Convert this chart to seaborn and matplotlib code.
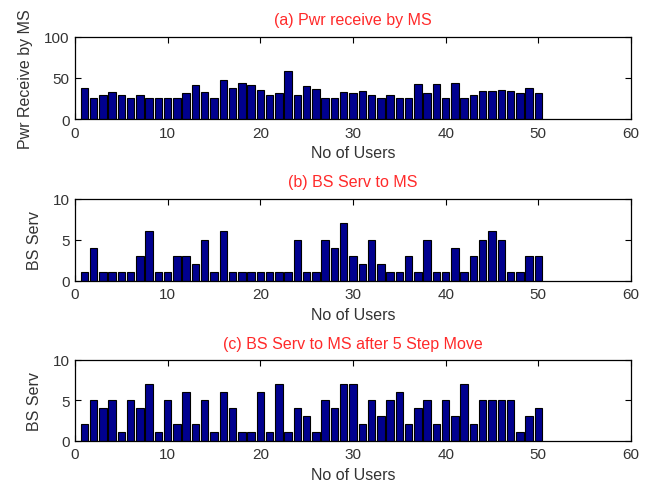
import matplotlib
matplotlib.use("Agg")
import matplotlib.pyplot as plt
import seaborn as sns
import pandas as pd

# Users 1..50
users = list(range(1, 51))

# (a) received power per mobile station
pwr_receive = [38, 26, 29, 33, 29, 26, 29, 26, 26, 26,
               26, 31, 41, 33, 26, 47, 37, 44, 41, 35,
               29, 31, 58, 29, 40, 36, 26, 26, 33, 31,
               34, 29, 26, 29, 26, 26, 43, 31, 43, 26,
               44, 26, 29, 34, 34, 35, 34, 31, 37, 31]

# (b) serving base station per mobile station
bs_serv = [1, 4, 1, 1, 1, 1, 3, 6, 1, 1,
           3, 3, 2, 5, 1, 6, 1, 1, 1, 1,
           1, 1, 1, 5, 1, 1, 5, 4, 7, 3,
           2, 5, 2, 1, 1, 3, 1, 5, 1, 1,
           4, 1, 3, 5, 6, 5, 1, 1, 3, 3]

# (c) serving base station after 5 steps of movement
bs_serv_moved = [2, 5, 4, 5, 1, 5, 4, 7, 1, 5,
                 2, 6, 2, 5, 1, 6, 4, 1, 1, 6,
                 1, 7, 1, 4, 3, 1, 5, 4, 7, 7,
                 2, 5, 3, 5, 6, 2, 4, 5, 2, 5,
                 3, 7, 2, 5, 5, 5, 5, 1, 3, 4]

titles = ["(a) Pwr receive by MS", "(b) BS Serv to MS",
          "(c) BS Serv to MS after 5 Step Move"]
ylabels = ["Pwr Receive by MS", "BS Serv", "BS Serv"]
xlabel = "No of Users"
xticks = [0, 10, 20, 30, 40, 50, 60]
yticks = [[0, 50, 100], [0, 5, 10], [0, 5, 10]]

sns.set_style("white")
plt.rcParams["font.family"] = ["Liberation Sans", "DejaVu Sans"]
plt.rcParams.update({
    "xtick.direction": "in", "ytick.direction": "in",
    "xtick.top": True, "ytick.right": True,
    "xtick.bottom": True, "ytick.left": True,
    "xtick.major.size": 4, "ytick.major.size": 4,
    "xtick.major.width": 0.8, "ytick.major.width": 0.8,
    "xtick.color": "black", "ytick.color": "black",
    "xtick.labelcolor": "#333333", "ytick.labelcolor": "#333333",
    "xtick.labelsize": 11, "ytick.labelsize": 11,
    "xtick.major.pad": 5, "ytick.major.pad": 4,
    "axes.edgecolor": "black", "axes.linewidth": 0.9,
})

fig = plt.figure(figsize=(6.49, 4.85), dpi=100)
W, H = 649, 485
boxes = [(37.5, 120.0), (199.5, 281.5), (361.0, 441.5)]
series = [pwr_receive, bs_serv, bs_serv_moved]
ylab_x = [-0.0755, -0.060, -0.060]

for i, ((top, bot), vals) in enumerate(zip(boxes, series)):
    ax = fig.add_axes([75 / W, 1 - bot / H, (631 - 75) / W, (bot - top) / H])
    df = pd.DataFrame({"user": users, "value": vals})
    sns.barplot(data=df, x="user", y="value", native_scale=True, width=0.8,
                color="#00008F", saturation=1, edgecolor="black", linewidth=0.8,
                ax=ax, errorbar=None)
    ax.set_xlim(0, 60)
    ax.set_ylim(yticks[i][0], yticks[i][-1])
    ax.set_xticks(xticks)
    ax.set_yticks(yticks[i])
    ax.set_title(titles[i], color="#FF2A2A", fontsize=11.5, pad=9)
    ax.set_xlabel(xlabel, fontsize=11.5, color="#333333", labelpad=4)
    ax.set_ylabel(ylabels[i], fontsize=11.5, color="#333333")
    ax.yaxis.set_label_coords(ylab_x[i], 0.5)
    for s in ax.spines.values():
        s.set_visible(True)

fig.savefig("out.png", dpi=100)
